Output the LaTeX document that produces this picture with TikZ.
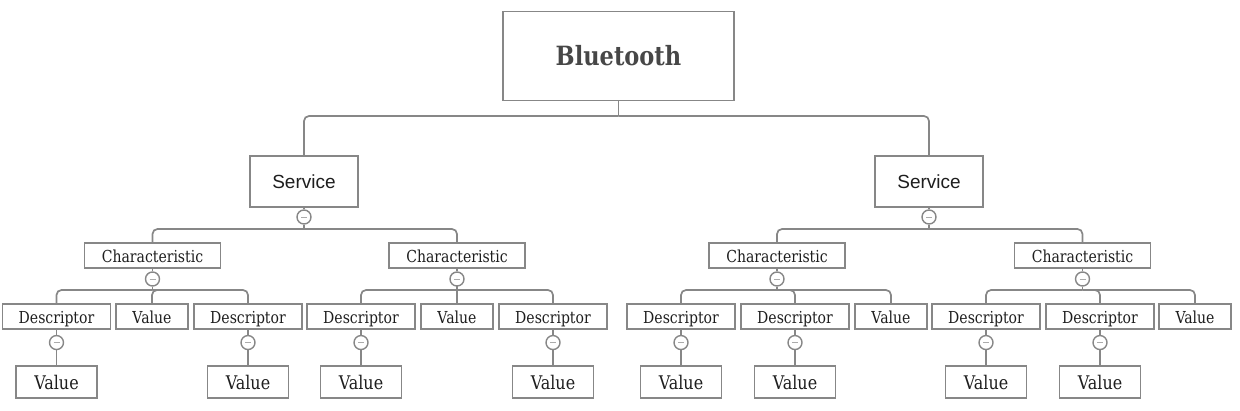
\documentclass[tikz,border=0pt]{standalone}
\usepackage{fontspec}
\usetikzlibrary{positioning}
\newfontfamily\slabFont[FakeStretch=0.85]{DejaVu Serif}
\newfontfamily\sansFont{Liberation Sans}
\definecolor{lineGray}{HTML}{878787}
\definecolor{textGray}{HTML}{1E1E1E}
\tikzset{
	box/.style={draw=lineGray, line width=1.7pt, fill=white, text=textGray, inner sep=0pt},
	rootBox/.style={box, minimum width=231pt, minimum height=89pt, text=black!72, font=\slabFont\bfseries\fontsize{26.5}{30}\selectfont},
	serviceBox/.style={box, minimum width=108pt, minimum height=51pt, font=\sansFont\fontsize{19}{22}\selectfont},
	charBox/.style={box, minimum width=136pt, minimum height=25pt, text height=14.5pt, text depth=0.9pt, font=\slabFont\fontsize{16.5}{19}\selectfont},
	descBox/.style={charBox, minimum width=108pt},
	valueBox/.style={charBox, minimum width=72pt},
	leafBox/.style={box, minimum width=81pt, minimum height=32pt, text height=15pt, text depth=0.5pt, font=\slabFont\fontsize{18.8}{22}\selectfont},
	knob/.style={circle, draw=lineGray, line width=1.4pt, fill=white, minimum size=14pt, inner sep=0pt,
		path picture={\draw[lineGray!70, line width=1pt] ([xshift=-3pt]path picture bounding box.center) -- ([xshift=3pt]path picture bounding box.center);}},
	link/.style={draw=lineGray, line width=1.7pt, rounded corners=5pt}
}
\begin{document}
\begin{tikzpicture}[x=1pt, y=-1pt]
	\useasboundingbox (0,0) rectangle (1240,410);
	% descriptor row: x position / text / style
	\def\rowNodes {56.5/Descriptor/descBox, 152/Value/valueBox, 248/Descriptor/descBox,
		361/Descriptor/descBox, 457/Value/valueBox, 553/Descriptor/descBox,
		681/Descriptor/descBox, 795/Descriptor/descBox, 891/Value/valueBox,
		986/Descriptor/descBox, 1100/Descriptor/descBox, 1195/Value/valueBox};
	% root
	\node[rootBox] (root) at (618.5,56) {Bluetooth};
	\coordinate (rootBar) at (618.5,116);
	\draw[link] (root) -- (rootBar);
	% services
	\foreach \x [count=\index] in {304,929}
	{
		\node[serviceBox] (service_\index) at (\x,181.5) {Service};
		\node[knob] (serviceKnob_\index) at (\x,217) {};
		\coordinate (serviceBar_\index) at (\x,229);
		\draw[link] (service_\index) -- (serviceKnob_\index) -- (serviceBar_\index);
		\draw[link] (service_\index.north) |- (rootBar);
	}
	% characteristics
	\foreach \x [count=\index] in {152.5,457,777,1082.5}
	{
		\node[charBox] (char_\index) at (\x,255.5) {Characteristic};
		\node[knob] (charKnob_\index) at (\x,279) {};
		\coordinate (charBar_\index) at (\x,290);
		\pgfmathtruncatemacro{\parent}{(\index+1)/2};
		\draw[link] (char_\index) -- (charKnob_\index) -- (charBar_\index);
		\draw[link] (char_\index.north) |- (serviceBar_\parent);
	}
	% descriptors and values
	\foreach \x/\label/\kind [count=\index] in \rowNodes
	{
		\node[\kind] (row_\index) at (\x,316.5) {\label};
		\pgfmathtruncatemacro{\parent}{(\index-1)/3+1};
		\draw[link] (row_\index.north) |- (charBar_\parent);
	}
	% descriptor values
	\foreach \parent in {1,3,4,6,7,8,10,11}
	{
		\node[knob, below=5pt of row_\parent] (rowKnob_\parent) {};
		\node[leafBox, below=15pt of rowKnob_\parent] (leaf_\parent) {Value};
		\draw[link] (row_\parent) -- (rowKnob_\parent) -- (leaf_\parent);
	}
\end{tikzpicture}
\end{document}
